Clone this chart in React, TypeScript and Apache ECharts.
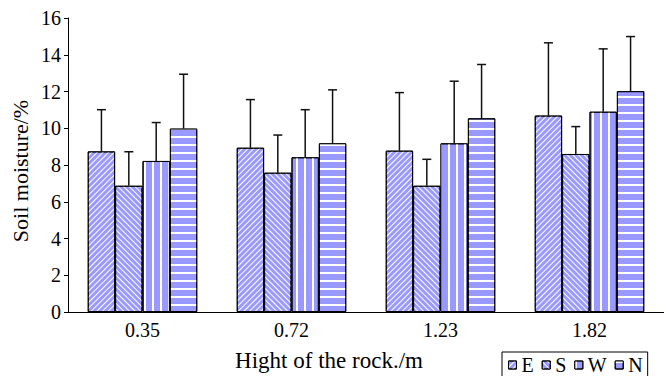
import React, { useEffect, useRef } from "react";
import * as echarts from "echarts";

const categories = ["0.35", "0.72", "1.23", "1.82"];
const seriesNames = ["E", "S", "W", "N"];
const meanE = [8.74, 8.94, 8.78, 10.69];
const meanS = [6.87, 7.58, 6.87, 8.6];
const meanW = [8.22, 8.42, 9.18, 10.9];
const meanN = [9.98, 9.18, 10.54, 12.02];
const errE = [2.27, 2.62, 3.16, 3.96];
const errS = [1.85, 2.05, 1.44, 1.49];
const errW = [2.09, 2.59, 3.38, 3.42];
const errN = [2.96, 2.91, 2.93, 2.97];
const yTicks = { min: 0, max: 16, interval: 2 };

const FONT = "'Liberation Serif', 'Times New Roman', Times, serif";
const FILL = "#9999ff";
const CAT_GAP = 0.265;

const means = [meanE, meanS, meanW, meanN];
const errs = [errE, errS, errW, errN];

const decals: any[] = [
  { symbol: "rect", color: "#ffffff", dashArrayX: [1, 0], dashArrayY: [1, 2.5], rotation: -Math.PI / 4, symbolSize: 1 },
  { symbol: "rect", color: "#ffffff", dashArrayX: [1, 0], dashArrayY: [1, 2.3], rotation: Math.PI / 4, symbolSize: 1 },
  { symbol: "rect", color: "#ffffff", dashArrayX: [1.6, 5.4], dashArrayY: [1, 0], rotation: 0, symbolSize: 1 },
  { symbol: "rect", color: "#ffffff", dashArrayX: [1, 0], dashArrayY: [2, 5.5], rotation: 0, symbolSize: 1 },
];

export default function App() {
  const ref = useRef<HTMLDivElement>(null);
  useEffect(() => {
    document.body.style.margin = "0";
    const chart = echarts.init(ref.current!, null, { renderer: "svg" });
    const barSeries = seriesNames.map((name, i) => ({
      name,
      type: "bar",
      data: means[i],
      barGap: "0%",
      barCategoryGap: CAT_GAP * 100 + "%",
      itemStyle: { color: FILL, borderColor: "#000", borderWidth: 1, decal: decals[i] },
      z: 2,
    }));
    const errSeries = seriesNames.map((name, i) => ({
      name: "err" + name,
      type: "custom",
      z: 3,
      data: means[i].map((m, ci) => [ci, m + errs[i][ci], m]),
      renderItem: (params: any, api: any) => {
        const ci = api.value(0);
        const top = api.value(1);
        const base = api.value(2);
        const band = api.size([1, 0])[0];
        const barW = (band * (1 - CAT_GAP)) / 4;
        const x = api.coord([ci, 0])[0] + (i - 1.5) * barW;
        const y1 = api.coord([ci, base])[1];
        const y2 = api.coord([ci, top])[1];
        const st = { stroke: "#111", lineWidth: 1.5 };
        return {
          type: "group",
          children: [
            { type: "line", shape: { x1: x, y1: y1, x2: x, y2: y2 }, style: st },
            { type: "line", shape: { x1: x - 4.5, y1: y2, x2: x + 4.5, y2: y2 }, style: st },
          ],
        };
      },
    }));
    chart.setOption({
      animation: false,
      grid: { left: 68, right: 0, top: 18, bottom: 64, containLabel: false },
      legend: {
        data: seriesNames,
        left: 502,
        top: 352,
        orient: "horizontal",
        icon: "rect",
        itemWidth: 8,
        itemHeight: 8,
        itemGap: 8,
        padding: [3, 5, 8, 6],
        borderColor: "#000",
        borderWidth: 1,
        borderRadius: 0,
        textStyle: { fontFamily: FONT, fontSize: 20, color: "#000" },
        itemStyle: { borderColor: "#000", borderWidth: 1 },
      },
      xAxis: {
        type: "category",
        data: categories,
        axisLine: { lineStyle: { color: "#000", width: 1 } },
        axisTick: { inside: true, length: 5, lineStyle: { color: "#000" } },
        axisLabel: { fontFamily: FONT, fontSize: 20, color: "#000", margin: 8 },
      },
      yAxis: {
        type: "value",
        min: yTicks.min,
        max: yTicks.max,
        interval: yTicks.interval,
        splitLine: { show: false },
        axisLine: { show: true, lineStyle: { color: "#000", width: 1 } },
        axisTick: { show: true, length: 4, lineStyle: { color: "#000" } },
        axisLabel: { fontFamily: FONT, fontSize: 20, color: "#000", margin: 7 },
      },
      graphic: [
        {
          type: "text",
          x: 20,
          y: 171,
          rotation: Math.PI / 2,
          style: { text: "Soil moisture/%", fontFamily: FONT, fontSize: 22, fill: "#000", align: "center", verticalAlign: "middle" },
        },
        {
          type: "text",
          x: 329,
          y: 360,
          style: { text: "Hight of the rock./m", fontFamily: FONT, fontSize: 23, fill: "#000", align: "center", verticalAlign: "middle" },
        },
      ],
      series: [...barSeries, ...errSeries],
    });
    return () => chart.dispose();
  }, []);
  return <div ref={ref} style={{ position: "absolute", left: 0, top: 0, width: 664, height: 376 }} />;
}
